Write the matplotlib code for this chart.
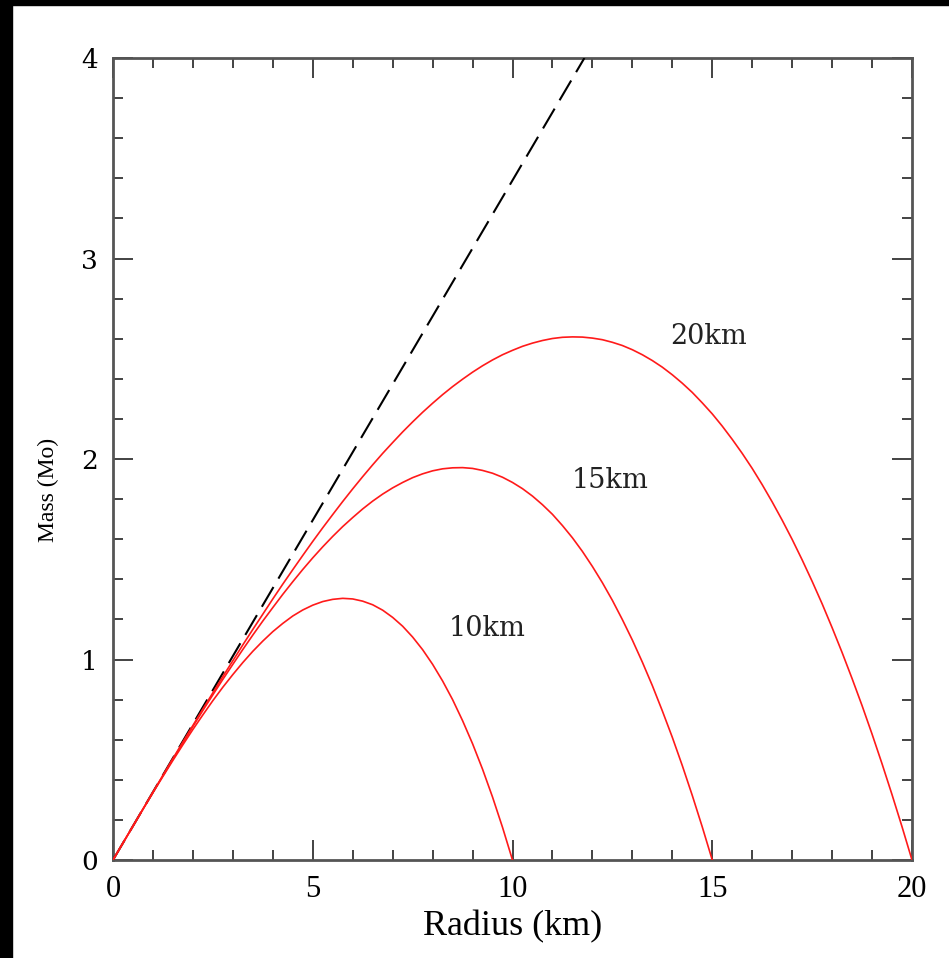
import matplotlib
matplotlib.use("Agg")
import matplotlib.pyplot as plt
from matplotlib.patches import Rectangle
from matplotlib.ticker import MultipleLocator

# ---- data ----
r10 = [0, 0.25, 0.5, 0.75, 1, 1.25, 1.5, 1.75, 2, 2.25, 2.5, 2.75, 3, 3.25, 3.5, 3.75, 4,
       4.25, 4.5, 4.75, 5, 5.25, 5.5, 5.75, 6, 6.25, 6.5, 6.75, 7, 7.25, 7.5, 7.75, 8,
       8.25, 8.5, 8.75, 9, 9.25, 9.5, 9.75, 10]
m10 = [0, 0.085, 0.169, 0.253, 0.336, 0.417, 0.497, 0.575, 0.651, 0.724, 0.795, 0.862,
       0.925, 0.985, 1.041, 1.092, 1.139, 1.180, 1.217, 1.247, 1.271, 1.289, 1.300, 1.305,
       1.302, 1.291, 1.273, 1.246, 1.210, 1.166, 1.112, 1.049, 0.976, 0.893, 0.800, 0.695,
       0.580, 0.453, 0.314, 0.163, 0]

r15 = [0, 0.25, 0.5, 0.75, 1, 1.25, 1.5, 1.75, 2, 2.25, 2.5, 2.75, 3, 3.25, 3.5, 3.75, 4,
       4.25, 4.5, 4.75, 5, 5.25, 5.5, 5.75, 6, 6.25, 6.5, 6.75, 7, 7.25, 7.5, 7.75, 8,
       8.25, 8.5, 8.75, 9, 9.25, 9.5, 9.75, 10, 10.25, 10.5, 10.75, 11, 11.25, 11.5, 11.75,
       12, 12.25, 12.5, 12.75, 13, 13.25, 13.5, 13.75, 14, 14.25, 14.5, 14.75, 15]
m15 = [0, 0.085, 0.169, 0.254, 0.338, 0.421, 0.503, 0.585, 0.666, 0.746, 0.824, 0.901,
       0.976, 1.050, 1.122, 1.192, 1.259, 1.325, 1.388, 1.449, 1.507, 1.562, 1.614, 1.663,
       1.708, 1.751, 1.790, 1.825, 1.856, 1.883, 1.907, 1.926, 1.941, 1.951, 1.956, 1.957,
       1.953, 1.943, 1.929, 1.909, 1.883, 1.852, 1.815, 1.772, 1.724, 1.668, 1.607, 1.539,
       1.464, 1.383, 1.295, 1.199, 1.097, 0.987, 0.870, 0.744, 0.612, 0.471, 0.322, 0.165, 0]

r20 = [0, 0.25, 0.5, 0.75, 1, 1.25, 1.5, 1.75, 2, 2.25, 2.5, 2.75, 3, 3.25, 3.5, 3.75, 4,
       4.25, 4.5, 4.75, 5, 5.25, 5.5, 5.75, 6, 6.25, 6.5, 6.75, 7, 7.25, 7.5, 7.75, 8,
       8.25, 8.5, 8.75, 9, 9.25, 9.5, 9.75, 10, 10.25, 10.5, 10.75, 11, 11.25, 11.5, 11.75,
       12, 12.25, 12.5, 12.75, 13, 13.25, 13.5, 13.75, 14, 14.25, 14.5, 14.75, 15, 15.25,
       15.5, 15.75, 16, 16.25, 16.5, 16.75, 17, 17.25, 17.5, 17.75, 18, 18.25, 18.5, 18.75,
       19, 19.25, 19.5, 19.75, 20]
m20 = [0, 0.085, 0.169, 0.254, 0.338, 0.422, 0.506, 0.589, 0.671, 0.753, 0.834, 0.915,
       0.994, 1.073, 1.150, 1.226, 1.302, 1.376, 1.448, 1.519, 1.589, 1.657, 1.723, 1.788,
       1.851, 1.912, 1.971, 2.028, 2.082, 2.135, 2.185, 2.233, 2.278, 2.321, 2.361, 2.398,
       2.433, 2.465, 2.494, 2.520, 2.542, 2.562, 2.578, 2.591, 2.601, 2.607, 2.609, 2.608,
       2.603, 2.595, 2.582, 2.566, 2.545, 2.520, 2.491, 2.458, 2.420, 2.378, 2.332, 2.280,
       2.225, 2.164, 2.098, 2.028, 1.953, 1.872, 1.786, 1.695, 1.599, 1.497, 1.390, 1.278,
       1.159, 1.035, 0.905, 0.770, 0.628, 0.480, 0.326, 0.166, 0]

r_limit = [0, 11.8]
m_limit = [0, 4.0]

curve_labels = ["10km", "15km", "20km"]
label_x = [8.41, 11.49, 13.94]
label_y = [1.157, 1.895, 2.613]

x_ticks = [0, 5, 10, 15, 20]
y_ticks = [0, 1, 2, 3, 4]

# ---- figure ----
W, H = 949, 958
fig = plt.figure(figsize=(W / 100, H / 100), dpi=100)
fig.patch.set_facecolor("white")
ax = fig.add_axes([113 / W, 1 - 860 / H, (912 - 113) / W, (860 - 58) / H])

lw_dash = 1.5
ax.plot(r_limit, m_limit, color="black", lw=lw_dash,
        linestyle=(0, (16.5 / lw_dash, 7.0 / lw_dash)), zorder=3)
for r, m in [(r10, m10), (r15, m15), (r20, m20)]:
    ax.plot(r, m, color="#ff1a1a", lw=1.2, zorder=4, solid_joinstyle="round")

for t, x, y in zip(curve_labels, label_x, label_y):
    ax.text(x, y, t, ha="left", va="center", fontsize=19.5,
            family="DejaVu Serif", color="#222222")

ax.set_xlim(0, 20)
ax.set_ylim(0, 4)
ax.set_xticks(x_ticks)
ax.set_yticks(y_ticks)
ax.xaxis.set_minor_locator(MultipleLocator(1))
ax.yaxis.set_minor_locator(MultipleLocator(0.2))
ax.tick_params(which="both", direction="in", top=True, right=True,
               color="#222222", width=1.2)
ax.tick_params(which="major", length=14.4)
ax.tick_params(which="minor", length=7.2)
ax.tick_params(axis="x", pad=11)
ax.tick_params(axis="y", pad=11)

for lab in ax.get_xticklabels():
    lab.set_family("Liberation Serif")
    lab.set_fontsize(22)
for lab in ax.get_yticklabels():
    lab.set_family("DejaVu Serif")
    lab.set_fontsize(19)

for sp in ax.spines.values():
    sp.set_color("#555555")
    sp.set_linewidth(2.0)

ax.set_xlabel("Radius (km)", family="Liberation Serif", fontsize=26, labelpad=4)
ax.set_ylabel("Mass (Mo)", family="Liberation Serif", fontsize=17)
ax.yaxis.set_label_coords(-(113 - 59) / (912 - 113), (860 - 490) / (860 - 58))

# black strips along the top and left edges of the picture
fig.patches.append(Rectangle((0, 0), 12 / W, 1, transform=fig.transFigure,
                             color="black", zorder=10))
fig.patches.append(Rectangle((0, 1 - 5 / H), 1, 5 / H, transform=fig.transFigure,
                             color="black", zorder=10))

fig.savefig("out.png", dpi=100, facecolor="white")
